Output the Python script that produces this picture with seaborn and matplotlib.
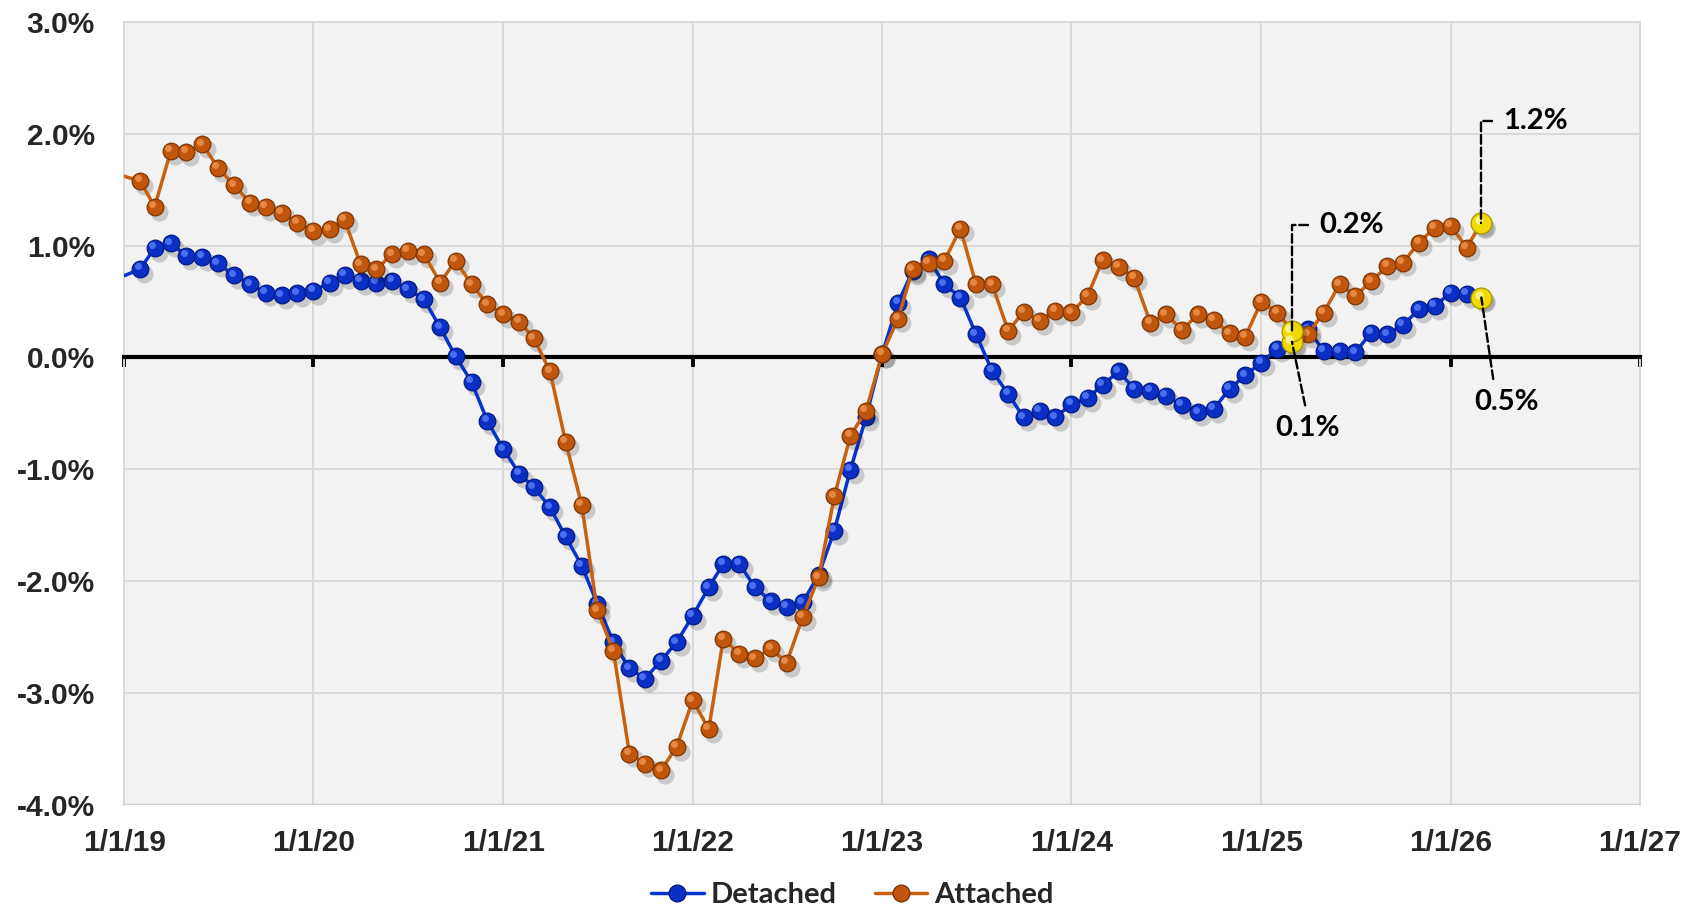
import numpy as np
import pandas as pd
import matplotlib
matplotlib.use("Agg")
import matplotlib.pyplot as plt
import matplotlib.dates as mdates
import matplotlib.transforms as mtrans
from matplotlib.ticker import FuncFormatter, FixedLocator
from matplotlib.lines import Line2D
import seaborn as sns

# ---------------- data (year-over-year %, monthly) ----------------
months = pd.date_range("2019-01-01", "2026-03-01", freq="MS")

detached = [
    0.73, 0.79, 0.98, 1.02, 0.91, 0.90, 0.84, 0.735, 0.655, 0.58, 0.557, 0.574,      # 2019
    0.595, 0.67, 0.74, 0.685, 0.67, 0.685, 0.61, 0.52, 0.27, 0.01, -0.22, -0.565,    # 2020
    -0.82, -1.04, -1.16, -1.34, -1.60, -1.86, -2.20, -2.545, -2.78, -2.87, -2.71, -2.545,  # 2021
    -2.31, -2.054, -1.845, -1.845, -2.054, -2.18, -2.23, -2.19, -1.94, -1.548, -1.003, -0.536,  # 2022
    0.03, 0.49, 0.774, 0.878, 0.655, 0.536, 0.208, -0.119, -0.327, -0.536, -0.476, -0.536,  # 2023
    -0.417, -0.363, -0.245, -0.125, -0.28, -0.298, -0.345, -0.423, -0.491, -0.461, -0.28, -0.16,  # 2024
    -0.045, 0.08, 0.14, 0.253, 0.06, 0.055, 0.045, 0.223, 0.208, 0.29, 0.43, 0.46,  # 2025
    0.58, 0.57, 0.536,                                                                # 2026
]
attached = [
    1.62, 1.577, 1.348, 1.845, 1.836, 1.905, 1.696, 1.539, 1.384, 1.348, 1.295, 1.205,  # 2019
    1.131, 1.146, 1.229, 0.833, 0.789, 0.923, 0.952, 0.923, 0.67, 0.863, 0.655, 0.476,  # 2020
    0.387, 0.32, 0.17, -0.125, -0.753, -1.318, -2.26, -2.62, -3.54, -3.63, -3.69, -3.48,  # 2021
    -3.065, -3.32, -2.515, -2.649, -2.69, -2.60, -2.73, -2.32, -1.964, -1.24, -0.70, -0.476,  # 2022
    0.03, 0.348, 0.789, 0.848, 0.863, 1.152, 0.655, 0.655, 0.238, 0.408, 0.327, 0.417,  # 2023
    0.402, 0.55, 0.87, 0.81, 0.714, 0.3125, 0.387, 0.245, 0.387, 0.335, 0.215, 0.186,  # 2024
    0.50, 0.40, 0.24, 0.208, 0.40, 0.655, 0.55, 0.68, 0.818, 0.848, 1.027, 1.16,  # 2025
    1.176, 0.982, 1.205,                                                          # 2026
]
series_names = ["Detached", "Attached"]
highlight_dates = ["2025-03-01", "2026-03-01"]
highlight_labels = {"Detached": ["0.1%", "0.5%"], "Attached": ["0.2%", "1.2%"]}
year_ticks = pd.date_range("2019-01-01", "2027-01-01", freq="YS")
y_ticks = [-4, -3, -2, -1, 0, 1, 2, 3]

# ---------------- styling ----------------
sns.set_style("white")
plt.rcParams["font.family"] = ["Liberation Sans", "DejaVu Sans"]
plt.rcParams["font.weight"] = "bold"

BLUE_LINE, BLUE_M, BLUE_E, BLUE_H = "#0632D0", "#0B2FC4", "#021C86", "#5F86FF"
ORNG_LINE, ORNG_M, ORNG_E, ORNG_H = "#C8600F", "#BF560C", "#7E3604", "#F39A55"
YEL_M, YEL_E, YEL_H = "#F0DA00", "#A89500", "#FFF6A0"

fig = plt.figure(figsize=(16.95, 9.10), dpi=100)
ax = fig.add_axes([0.0732, 0.1154, 0.8944, 0.8606])
ax.set_facecolor("#F2F2F2")

x = mdates.date2num(months)
n = len(x)
shadow_tr = mtrans.offset_copy(ax.transData, fig=fig, x=3.0, y=-3.5, units="points")
hl_tr = mtrans.offset_copy(ax.transData, fig=fig, x=-1.8, y=1.9, units="points")

styles = {
    "Detached": (detached, BLUE_LINE, BLUE_M, BLUE_E, BLUE_H, 3),
    "Attached": (attached, ORNG_LINE, ORNG_M, ORNG_E, ORNG_H, 5),
}
handles = []
for name in series_names:
    vals, lc, mc, ec, hc, z = styles[name]
    vals = np.asarray(vals)
    # shadow
    ax.plot(x[1:], vals[1:], ls="none", marker="o", ms=13, color="#000000",
            alpha=0.17, mew=0, transform=shadow_tr, zorder=z - 0.5)
    sns.lineplot(x=x, y=vals, ax=ax, color=lc, lw=2.5, marker="o", ms=12,
                 markerfacecolor=mc, markeredgecolor=ec, markeredgewidth=0.9,
                 markevery=list(range(1, n)), zorder=z, legend=False)
    # sphere highlight
    ax.plot(x[1:], vals[1:], ls="none", marker="o", ms=5, color=hc,
            alpha=0.75, mew=0, transform=hl_tr, zorder=z + 0.1)
    handles.append(Line2D([0], [0], color=lc, lw=2.5, marker="o", ms=12,
                          markerfacecolor=mc, markeredgecolor=ec))

# highlighted (yellow) points
hx = mdates.date2num(pd.to_datetime(highlight_dates))
for name in series_names:
    vals = np.asarray(styles[name][0])
    idx = [list(months).index(pd.Timestamp(d)) for d in highlight_dates]
    hy = vals[idx]
    ax.plot(hx, hy, ls="none", marker="o", ms=15, color="#000000", alpha=0.17,
            mew=0, transform=shadow_tr, zorder=6.5)
    ax.plot(hx, hy, ls="none", marker="o", ms=15, markerfacecolor=YEL_M,
            markeredgecolor=YEL_E, markeredgewidth=0.9, zorder=7)
    ax.plot(hx, hy, ls="none", marker="o", ms=6, color=YEL_H, alpha=0.85,
            mew=0, transform=hl_tr, zorder=7.1)

# annotations
ann_font = dict(fontsize=21, fontfamily="Lato", fontweight="bold", color="black")
dash = dict(arrowstyle="-", linestyle="--", lw=1.7, color="black", shrinkB=0)
v_a = np.asarray(attached); v_d = np.asarray(detached)
i25 = list(months).index(pd.Timestamp(highlight_dates[0]))
i26 = list(months).index(pd.Timestamp(highlight_dates[1]))
ax.annotate(highlight_labels["Attached"][0], xy=(hx[0], v_a[i25]), xytext=(20, 76),
            textcoords="offset points", ha="left", va="center", zorder=8,
            arrowprops=dict(dash, connectionstyle="angle,angleA=180,angleB=90,rad=0",
                            relpos=(0, 0.5), shrinkA=6), **ann_font)
ax.annotate(highlight_labels["Detached"][0], xy=(hx[0], v_d[i25]), xytext=(11, -53),
            textcoords="offset points", ha="center", va="top", zorder=8,
            arrowprops=dict(dash, relpos=(0.5, 1), shrinkA=5), **ann_font)
ax.annotate(highlight_labels["Attached"][1], xy=(hx[1], v_a[i26]), xytext=(16, 73),
            textcoords="offset points", ha="left", va="center", zorder=8,
            arrowprops=dict(dash, connectionstyle="angle,angleA=180,angleB=90,rad=0",
                            relpos=(0, 0.5), shrinkA=6), **ann_font)
ax.annotate(highlight_labels["Detached"][1], xy=(hx[1], v_d[i26]), xytext=(18, -66),
            textcoords="offset points", ha="center", va="top", zorder=8,
            arrowprops=dict(dash, relpos=(0.32, 1), shrinkA=5), **ann_font)

# axes, grid, ticks
xt = mdates.date2num(year_ticks)
ax.set_xlim(xt[0], xt[-1])
ax.set_ylim(y_ticks[0], y_ticks[-1])
ax.xaxis.set_major_locator(FixedLocator(xt))
ax.set_yticks(y_ticks)
ax.yaxis.set_major_formatter(FuncFormatter(lambda v, p: f"{v:.1f}%"))
ax.grid(True, color="#D9D9D9", lw=1.4)
ax.set_axisbelow(True)
ax.set_xlabel(""); ax.set_ylabel("")

for s in ["left", "top", "right"]:
    ax.spines[s].set_color("#D9D9D9")
    ax.spines[s].set_linewidth(1.4)
ax.spines["bottom"].set_position(("data", 0))
ax.spines["bottom"].set_color("black")
ax.spines["bottom"].set_linewidth(3)
ax.spines["bottom"].set_zorder(2.6)
ax.xaxis.set_ticks_position("bottom")
ax.tick_params(axis="x", which="major", bottom=True, direction="out", length=7,
               width=2.8, color="black", labelbottom=False)
ax.tick_params(axis="y", length=0, pad=21, labelsize=21.5)

def date_fmt(v, p):
    d = mdates.num2date(v)
    return f"{d.month}/{d.day}/{d.year % 100:02d}"

sec = ax.secondary_xaxis("bottom")
sec.set_xticks(xt)
sec.xaxis.set_major_formatter(FuncFormatter(date_fmt))
sec.tick_params(length=0, pad=17, labelsize=21.5)
sec.spines["bottom"].set_visible(False)

# bottom border of the plot area
ax.axhline(y_ticks[0], color="#D0D0D0", lw=2.5, zorder=1)

fig.legend(handles, series_names, loc="center", bbox_to_anchor=(0.503, 0.0165),
           ncol=2, frameon=False, handlelength=1.8, handletextpad=0.25,
           columnspacing=1.3, prop=dict(family="Lato", weight="bold", size=21))

fig.savefig("out.png", dpi=100, facecolor="white")
